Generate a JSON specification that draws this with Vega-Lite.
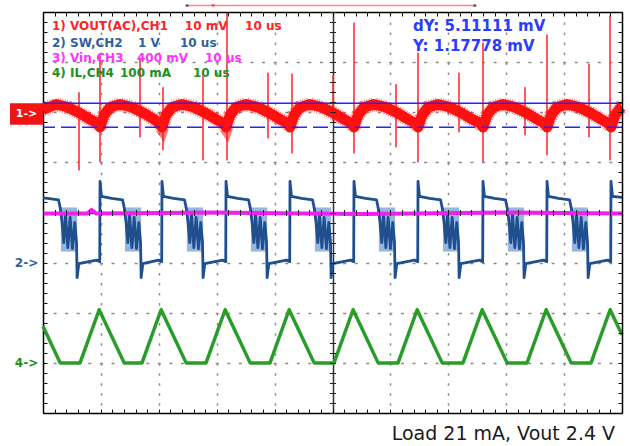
{
  "$schema": "https://vega.github.io/schema/vega-lite/v6.json",
  "width": 579,
  "height": 401,
  "autosize": {"type": "none"},
  "padding": {"left": 43, "top": 12, "right": 8, "bottom": 33},
  "background": "white",
  "config": {"view": {"stroke": null}},
  "resolve": {"axis": {"x": "independent", "y": "independent"}},
  "datasets": {
    "il": [
      {"t": 0, "v": -2.27}, {"t": 2.96, "v": -3.0}, {"t": 6.40, "v": -3.0}, {"t": 9.70, "v": -1.94},
      {"t": 14.02, "v": -3.0}, {"t": 17.10, "v": -3.0}, {"t": 20.40, "v": -1.94},
      {"t": 24.72, "v": -3.0}, {"t": 28.16, "v": -3.0}, {"t": 31.46, "v": -1.94},
      {"t": 35.78, "v": -3.0}, {"t": 39.21, "v": -3.0}, {"t": 42.51, "v": -1.94},
      {"t": 46.83, "v": -3.0}, {"t": 50.26, "v": -3.0}, {"t": 53.56, "v": -1.94},
      {"t": 57.88, "v": -3.0}, {"t": 61.32, "v": -3.0}, {"t": 64.62, "v": -1.94},
      {"t": 68.94, "v": -3.0}, {"t": 72.54, "v": -3.0}, {"t": 75.84, "v": -1.94},
      {"t": 80.16, "v": -3.0}, {"t": 83.60, "v": -3.0}, {"t": 86.90, "v": -1.94},
      {"t": 91.22, "v": -3.0}, {"t": 94.65, "v": -3.0}, {"t": 97.95, "v": -1.94},
      {"t": 100, "v": -2.44}
    ],
    "sw": [
      {"t": 0, "v": 0.29}, {"t": 0.79, "v": 0.28}, {"t": 2.69, "v": 0.25}, {"t": 2.99, "v": 0.08}, {"t": 3.29, "v": -0.2}, {"t": 3.59, "v": -0.6}, {"t": 3.89, "v": -0.05}, {"t": 4.29, "v": -0.7}, {"t": 4.69, "v": -0.1}, {"t": 5.09, "v": -0.72}, {"t": 5.49, "v": -0.2}, {"t": 5.79, "v": -0.6}, {"t": 5.89, "v": -1.3}, {"t": 6.19, "v": -1.02}, {"t": 9.25, "v": -0.95},
      {"t": 9.80, "v": -0.98}, {"t": 9.85, "v": 0.62}, {"t": 10.10, "v": 0.32}, {"t": 11.85, "v": 0.28}, {"t": 13.75, "v": 0.25}, {"t": 14.05, "v": 0.08}, {"t": 14.35, "v": -0.2}, {"t": 14.65, "v": -0.6}, {"t": 14.95, "v": -0.05}, {"t": 15.35, "v": -0.7}, {"t": 15.75, "v": -0.1}, {"t": 16.15, "v": -0.72}, {"t": 16.55, "v": -0.2}, {"t": 16.85, "v": -0.6}, {"t": 16.95, "v": -1.3}, {"t": 17.25, "v": -1.02}, {"t": 19.95, "v": -0.95},
      {"t": 20.50, "v": -0.98}, {"t": 20.55, "v": 0.62}, {"t": 20.80, "v": 0.32}, {"t": 22.55, "v": 0.28}, {"t": 24.45, "v": 0.25}, {"t": 24.75, "v": 0.08}, {"t": 25.05, "v": -0.2}, {"t": 25.35, "v": -0.6}, {"t": 25.65, "v": -0.05}, {"t": 26.05, "v": -0.7}, {"t": 26.45, "v": -0.1}, {"t": 26.85, "v": -0.72}, {"t": 27.25, "v": -0.2}, {"t": 27.55, "v": -0.6}, {"t": 27.65, "v": -1.3}, {"t": 27.95, "v": -1.02}, {"t": 31.01, "v": -0.95},
      {"t": 31.56, "v": -0.98}, {"t": 31.61, "v": 0.62}, {"t": 31.86, "v": 0.32}, {"t": 33.61, "v": 0.28}, {"t": 35.51, "v": 0.25}, {"t": 35.81, "v": 0.08}, {"t": 36.11, "v": -0.2}, {"t": 36.41, "v": -0.6}, {"t": 36.71, "v": -0.05}, {"t": 37.11, "v": -0.7}, {"t": 37.51, "v": -0.1}, {"t": 37.91, "v": -0.72}, {"t": 38.31, "v": -0.2}, {"t": 38.61, "v": -0.6}, {"t": 38.71, "v": -1.3}, {"t": 39.01, "v": -1.02}, {"t": 42.06, "v": -0.95},
      {"t": 42.61, "v": -0.98}, {"t": 42.66, "v": 0.62}, {"t": 42.91, "v": 0.32}, {"t": 44.66, "v": 0.28}, {"t": 46.56, "v": 0.25}, {"t": 46.86, "v": 0.08}, {"t": 47.16, "v": -0.2}, {"t": 47.46, "v": -0.6}, {"t": 47.76, "v": -0.05}, {"t": 48.16, "v": -0.7}, {"t": 48.56, "v": -0.1}, {"t": 48.96, "v": -0.72}, {"t": 49.36, "v": -0.2}, {"t": 49.66, "v": -0.6}, {"t": 49.76, "v": -1.3}, {"t": 50.06, "v": -1.02}, {"t": 53.11, "v": -0.95},
      {"t": 53.66, "v": -0.98}, {"t": 53.71, "v": 0.62}, {"t": 53.96, "v": 0.32}, {"t": 55.71, "v": 0.28}, {"t": 57.61, "v": 0.25}, {"t": 57.91, "v": 0.08}, {"t": 58.21, "v": -0.2}, {"t": 58.51, "v": -0.6}, {"t": 58.81, "v": -0.05}, {"t": 59.21, "v": -0.7}, {"t": 59.61, "v": -0.1}, {"t": 60.01, "v": -0.72}, {"t": 60.41, "v": -0.2}, {"t": 60.71, "v": -0.6}, {"t": 60.81, "v": -1.3}, {"t": 61.11, "v": -1.02}, {"t": 64.17, "v": -0.95},
      {"t": 64.72, "v": -0.98}, {"t": 64.77, "v": 0.62}, {"t": 65.02, "v": 0.32}, {"t": 66.77, "v": 0.28}, {"t": 68.67, "v": 0.25}, {"t": 68.97, "v": 0.08}, {"t": 69.27, "v": -0.2}, {"t": 69.57, "v": -0.6}, {"t": 69.87, "v": -0.05}, {"t": 70.27, "v": -0.7}, {"t": 70.67, "v": -0.1}, {"t": 71.07, "v": -0.72}, {"t": 71.47, "v": -0.2}, {"t": 71.77, "v": -0.6}, {"t": 71.87, "v": -1.3}, {"t": 72.17, "v": -1.02}, {"t": 75.39, "v": -0.95},
      {"t": 75.94, "v": -0.98}, {"t": 75.99, "v": 0.62}, {"t": 76.24, "v": 0.32}, {"t": 77.99, "v": 0.28}, {"t": 79.89, "v": 0.25}, {"t": 80.19, "v": 0.08}, {"t": 80.49, "v": -0.2}, {"t": 80.79, "v": -0.6}, {"t": 81.09, "v": -0.05}, {"t": 81.49, "v": -0.7}, {"t": 81.89, "v": -0.1}, {"t": 82.29, "v": -0.72}, {"t": 82.69, "v": -0.2}, {"t": 82.99, "v": -0.6}, {"t": 83.09, "v": -1.3}, {"t": 83.39, "v": -1.02}, {"t": 86.45, "v": -0.95},
      {"t": 87.00, "v": -0.98}, {"t": 87.05, "v": 0.62}, {"t": 87.30, "v": 0.32}, {"t": 89.05, "v": 0.28}, {"t": 90.95, "v": 0.25}, {"t": 91.25, "v": 0.08}, {"t": 91.55, "v": -0.2}, {"t": 91.85, "v": -0.6}, {"t": 92.15, "v": -0.05}, {"t": 92.55, "v": -0.7}, {"t": 92.95, "v": -0.1}, {"t": 93.35, "v": -0.72}, {"t": 93.75, "v": -0.2}, {"t": 94.05, "v": -0.6}, {"t": 94.15, "v": -1.3}, {"t": 94.45, "v": -1.02}, {"t": 97.50, "v": -0.95},
      {"t": 98.05, "v": -0.98}, {"t": 98.10, "v": 0.62}, {"t": 98.35, "v": 0.32}, {"t": 100, "v": 0.30}
    ],
    "ring": [
      {"t0": 3.09, "t1": 5.89, "hi": 0.1, "lo": -0.78},
      {"t0": 14.15, "t1": 16.95, "hi": 0.1, "lo": -0.78},
      {"t0": 24.85, "t1": 27.65, "hi": 0.1, "lo": -0.78},
      {"t0": 35.91, "t1": 38.71, "hi": 0.1, "lo": -0.78},
      {"t0": 46.96, "t1": 49.76, "hi": 0.1, "lo": -0.78},
      {"t0": 58.01, "t1": 60.81, "hi": 0.1, "lo": -0.78},
      {"t0": 69.07, "t1": 71.87, "hi": 0.1, "lo": -0.78},
      {"t0": 80.29, "t1": 83.09, "hi": 0.1, "lo": -0.78},
      {"t0": 91.35, "t1": 94.15, "hi": 0.1, "lo": -0.78}
    ],
    "vout": [
      {"t": 0, "v": 2.05}, {"t": 2.24, "v": 2.16}, {"t": 4.32, "v": 2.10}, {"t": 6.39, "v": 1.98}, {"t": 8.12, "v": 1.86}, {"t": 9.35, "v": 1.78},
      {"t": 9.85, "v": 1.70}, {"t": 10.54, "v": 1.94}, {"t": 11.58, "v": 2.10}, {"t": 13.30, "v": 2.16}, {"t": 15.38, "v": 2.10}, {"t": 17.45, "v": 1.98}, {"t": 19.18, "v": 1.86}, {"t": 20.05, "v": 1.78},
      {"t": 20.55, "v": 1.70}, {"t": 21.24, "v": 1.94}, {"t": 22.28, "v": 2.10}, {"t": 24.00, "v": 2.16}, {"t": 26.08, "v": 2.10}, {"t": 28.15, "v": 1.98}, {"t": 29.88, "v": 1.86}, {"t": 31.11, "v": 1.78},
      {"t": 31.61, "v": 1.70}, {"t": 32.30, "v": 1.94}, {"t": 33.34, "v": 2.10}, {"t": 35.06, "v": 2.16}, {"t": 37.14, "v": 2.10}, {"t": 39.21, "v": 1.98}, {"t": 40.94, "v": 1.86}, {"t": 42.16, "v": 1.78},
      {"t": 42.66, "v": 1.70}, {"t": 43.35, "v": 1.94}, {"t": 44.39, "v": 2.10}, {"t": 46.11, "v": 2.16}, {"t": 48.19, "v": 2.10}, {"t": 50.26, "v": 1.98}, {"t": 51.99, "v": 1.86}, {"t": 53.21, "v": 1.78},
      {"t": 53.71, "v": 1.70}, {"t": 54.40, "v": 1.94}, {"t": 55.44, "v": 2.10}, {"t": 57.16, "v": 2.16}, {"t": 59.24, "v": 2.10}, {"t": 61.31, "v": 1.98}, {"t": 63.04, "v": 1.86}, {"t": 64.27, "v": 1.78},
      {"t": 64.77, "v": 1.70}, {"t": 65.46, "v": 1.94}, {"t": 66.50, "v": 2.10}, {"t": 68.22, "v": 2.16}, {"t": 70.30, "v": 2.10}, {"t": 72.37, "v": 1.98}, {"t": 74.10, "v": 1.86}, {"t": 75.49, "v": 1.78},
      {"t": 75.99, "v": 1.70}, {"t": 76.68, "v": 1.94}, {"t": 77.72, "v": 2.10}, {"t": 79.44, "v": 2.16}, {"t": 81.52, "v": 2.10}, {"t": 83.59, "v": 1.98}, {"t": 85.32, "v": 1.86}, {"t": 86.55, "v": 1.78},
      {"t": 87.05, "v": 1.70}, {"t": 87.74, "v": 1.94}, {"t": 88.78, "v": 2.10}, {"t": 90.50, "v": 2.16}, {"t": 92.58, "v": 2.10}, {"t": 94.65, "v": 1.98}, {"t": 96.38, "v": 1.86}, {"t": 97.60, "v": 1.78},
      {"t": 98.10, "v": 1.70}, {"t": 98.79, "v": 1.94}, {"t": 99.83, "v": 2.10}, {"t": 100, "v": 2.11}
    ],
    "spikes": [
      {"t": 9.84, "hi": 3.13, "lo": 1.00}, {"t": 20.73, "hi": 2.50, "lo": 1.24}, {"t": 31.78, "hi": 3.99, "lo": 1.04},
      {"t": 43.01, "hi": 2.77, "lo": 1.18}, {"t": 53.71, "hi": 3.79, "lo": 1.18}, {"t": 64.77, "hi": 3.19, "lo": 1.00},
      {"t": 75.99, "hi": 3.39, "lo": 1.00}, {"t": 87.05, "hi": 3.55, "lo": 1.14}, {"t": 97.93, "hi": 3.93, "lo": 1.04},
      {"t": 6.22, "hi": 2.40, "lo": 0.84}, {"t": 16.75, "hi": 3.09, "lo": 1.50}, {"t": 27.63, "hi": 2.83, "lo": 1.04},
      {"t": 38.86, "hi": 2.79, "lo": 1.48}, {"t": 50.09, "hi": 2.74, "lo": 1.84}, {"t": 60.97, "hi": 2.56, "lo": 1.30},
      {"t": 71.85, "hi": 2.79, "lo": 1.60}, {"t": 83.25, "hi": 2.50, "lo": 1.54}, {"t": 94.30, "hi": 2.97, "lo": 1.50}
    ],
    "vin": [
      {"t": 0, "v": -0.02}, {"t": 7.6, "v": -0.02}, {"t": 8.4, "v": 0.05}, {"t": 9.2, "v": -0.02},
      {"t": 30, "v": 0.0}, {"t": 55, "v": -0.03}, {"t": 80, "v": 0.0}, {"t": 100, "v": -0.02}
    ],
    "legend": [
      {"t": 1.55, "v": 3.73, "s": "1) VOUT(AC),CH1", "ch": "1"},
      {"t": 24.5, "v": 3.73, "s": "10 mV", "ch": "1"},
      {"t": 34.9, "v": 3.73, "s": "10 us", "ch": "1"},
      {"t": 1.55, "v": 3.39, "s": "2) SW,CH2", "ch": "2"},
      {"t": 16.4, "v": 3.39, "s": "1  V", "ch": "2"},
      {"t": 23.66, "v": 3.39, "s": "10 us", "ch": "2"},
      {"t": 1.55, "v": 3.09, "s": "3) Vin,CH3", "ch": "3"},
      {"t": 16.23, "v": 3.09, "s": "400 mV", "ch": "3"},
      {"t": 27.98, "v": 3.09, "s": "10 us", "ch": "3"},
      {"t": 1.55, "v": 2.79, "s": "4) IL,CH4", "ch": "4"},
      {"t": 13.3, "v": 2.79, "s": "100 mA", "ch": "4"},
      {"t": 25.9, "v": 2.79, "s": "10 us", "ch": "4"}
    ],
    "markers": [
      {"t": -2.85, "v": -1.0, "s": "2->", "ch": "2"},
      {"t": -2.85, "v": -3.0, "s": "4->", "ch": "4"}
    ],
    "readout": [
      {"t": 63.9, "v": 3.73, "s": "dY: 5.11111 mV"},
      {"t": 63.9, "v": 3.33, "s": "Y: 1.17778 mV"}
    ],
    "box": [{"t0": -5.7, "t1": 0, "hi": 2.18, "lo": 1.75}],
    "boxlabel": [{"t": -2.85, "v": 1.965, "s": "1->"}],
    "cursors": [{"v": 2.18, "kind": "solid"}, {"v": 1.70, "kind": "dashed"}],
    "trigger": [{"t0": 24.87, "t1": 74.6, "v": 4.13}],
    "trigmark": [{"t": 29.36, "v": 4.12}],
    "trigends": [{"t": 24.87, "v": 4.13}, {"t": 74.6, "v": 4.13}],
    "caption": [{"t": 98.8, "v": -4.41, "s": "Load 21 mA, Vout 2.4 V"}]
  },
  "layer": [
    {
      "data": {"name": "ring"},
      "mark": {"type": "rect", "color": "#8fb2dc", "opacity": 0.95},
      "encoding": {
        "x": {"field": "t0", "type": "quantitative", "scale": {"domain": [0, 100], "nice": false, "zero": false}, "axis": null},
        "x2": {"field": "t1"},
        "y": {"field": "hi", "type": "quantitative", "scale": {"domain": [-4, 4], "nice": false, "zero": false}, "axis": null},
        "y2": {"field": "lo"}
      }
    },
    {
      "data": {"name": "il"},
      "mark": {"type": "line", "color": "#2a9c2a", "strokeWidth": 3.5, "strokeJoin": "round"},
      "encoding": {
        "x": {"field": "t", "type": "quantitative", "scale": {"domain": [0, 100], "nice": false, "zero": false},
          "axis": {"orient": "bottom", "values": [0,2,4,6,8,10,12,14,16,18,20,22,24,26,28,30,32,34,36,38,40,42,44,46,48,50,52,54,56,58,60,62,64,66,68,70,72,74,76,78,80,82,84,86,88,90,92,94,96,98,100],
            "labels": false, "title": null, "domain": true, "domainColor": "#000", "domainWidth": 1.5,
            "ticks": true, "tickColor": "#111", "tickSize": -4, "tickWidth": 1,
            "grid": true,
            "gridColor": {"condition": {"test": "datum.value === 50", "value": "#333"}, "value": "#8a8a8a"},
            "gridDash": {"condition": {"test": "datum.value === 50", "value": [1, 0]}, "value": [2.5, 7.52]},
            "gridWidth": 1.5,
            "gridOpacity": {"condition": {"test": "datum.value % 10 === 0 && datum.value > 0 && datum.value < 100", "value": 1}, "value": 0}}},
        "y": {"field": "v", "type": "quantitative", "scale": {"domain": [-4, 4], "nice": false, "zero": false},
          "axis": {"orient": "left", "values": [-4,-3.8,-3.6,-3.4,-3.2,-3,-2.8,-2.6,-2.4,-2.2,-2,-1.8,-1.6,-1.4,-1.2,-1,-0.8,-0.6,-0.4,-0.2,0,0.2,0.4,0.6,0.8,1,1.2,1.4,1.6,1.8,2,2.2,2.4,2.6,2.8,3,3.2,3.4,3.6,3.8,4],
            "labels": false, "title": null, "domain": true, "domainColor": "#000", "domainWidth": 1.5,
            "ticks": true, "tickColor": "#111", "tickSize": -4, "tickWidth": 1,
            "grid": true,
            "gridColor": {"condition": {"test": "abs(datum.value) < 0.001", "value": "#333"}, "value": "#8a8a8a"},
            "gridDash": {"condition": {"test": "abs(datum.value) < 0.001", "value": [1, 0]}, "value": [3, 8.58]},
            "gridDashOffset": 1.5,
            "gridWidth": 1.5,
            "gridOpacity": {"condition": {"test": "abs(datum.value - round(datum.value)) < 0.001 && abs(datum.value) < 3.9", "value": 1}, "value": 0}}}
      }
    },
    {
      "data": {"name": "sw"},
      "mark": {"type": "line", "color": "#1f4f8f", "strokeWidth": 2.8, "strokeJoin": "round"},
      "encoding": {
        "x": {"field": "t", "type": "quantitative", "scale": {"domain": [0, 100], "nice": false, "zero": false},
          "axis": {"orient": "bottom", "offset": -203.5, "values": [0,2,4,6,8,10,12,14,16,18,20,22,24,26,28,30,32,34,36,38,40,42,44,46,48,50,52,54,56,58,60,62,64,66,68,70,72,74,76,78,80,82,84,86,88,90,92,94,96,98,100],
            "labels": false, "title": null, "domain": false, "ticks": true, "tickColor": "#222", "tickSize": 6, "tickWidth": 1, "grid": false, "zindex": 1}},
        "y": {"field": "v", "type": "quantitative", "scale": {"domain": [-4, 4], "nice": false, "zero": false},
          "axis": {"orient": "left", "offset": -292.5, "values": [-4,-3.8,-3.6,-3.4,-3.2,-3,-2.8,-2.6,-2.4,-2.2,-2,-1.8,-1.6,-1.4,-1.2,-1,-0.8,-0.6,-0.4,-0.2,0,0.2,0.4,0.6,0.8,1,1.2,1.4,1.6,1.8,2,2.2,2.4,2.6,2.8,3,3.2,3.4,3.6,3.8,4],
            "labels": false, "title": null, "domain": false, "ticks": true, "tickColor": "#222", "tickSize": 6, "tickWidth": 1, "grid": false, "zindex": 1}}
      }
    },
    {
      "data": {"name": "vin"},
      "mark": {"type": "line", "color": "#f020f0", "strokeWidth": 4},
      "encoding": {
        "x": {"field": "t", "type": "quantitative", "scale": {"domain": [0, 100], "nice": false, "zero": false},
          "axis": {"orient": "top", "values": [0,2,4,6,8,10,12,14,16,18,20,22,24,26,28,30,32,34,36,38,40,42,44,46,48,50,52,54,56,58,60,62,64,66,68,70,72,74,76,78,80,82,84,86,88,90,92,94,96,98,100],
            "labels": false, "title": null, "domain": true, "domainColor": "#000", "domainWidth": 1.5, "ticks": true, "tickColor": "#111", "tickSize": -4, "tickWidth": 1, "grid": false, "zindex": 1}},
        "y": {"field": "v", "type": "quantitative", "scale": {"domain": [-4, 4], "nice": false, "zero": false},
          "axis": {"orient": "right", "values": [-4,-3.8,-3.6,-3.4,-3.2,-3,-2.8,-2.6,-2.4,-2.2,-2,-1.8,-1.6,-1.4,-1.2,-1,-0.8,-0.6,-0.4,-0.2,0,0.2,0.4,0.6,0.8,1,1.2,1.4,1.6,1.8,2,2.2,2.4,2.6,2.8,3,3.2,3.4,3.6,3.8,4],
            "labels": false, "title": null, "domain": true, "domainColor": "#000", "domainWidth": 1.5, "ticks": true, "tickColor": "#111", "tickSize": -4, "tickWidth": 1, "grid": false, "zindex": 1}}
      }
    },
    {
      "data": {"name": "spikes"},
      "mark": {"type": "rule", "color": "#ff3b3b", "strokeWidth": 2, "opacity": 0.85},
      "encoding": {
        "x": {"field": "t", "type": "quantitative", "scale": {"domain": [0, 100], "nice": false, "zero": false}, "axis": null},
        "y": {"field": "hi", "type": "quantitative", "scale": {"domain": [-4, 4], "nice": false, "zero": false}, "axis": null},
        "y2": {"field": "lo"}
      }
    },
    {
      "data": {"name": "vout"},
      "mark": {"type": "line", "color": "#ff1414", "strokeWidth": 14, "strokeDash": [1, 1.4], "strokeCap": "butt", "opacity": 0.55},
      "encoding": {
        "x": {"field": "t", "type": "quantitative", "scale": {"domain": [0, 100], "nice": false, "zero": false}, "axis": null},
        "y": {"field": "v", "type": "quantitative", "scale": {"domain": [-4, 4], "nice": false, "zero": false}, "axis": null}
      }
    },
    {
      "data": {"name": "vout"},
      "mark": {"type": "line", "color": "#ff1010", "strokeWidth": 10.5, "strokeJoin": "round"},
      "encoding": {
        "x": {"field": "t", "type": "quantitative", "scale": {"domain": [0, 100], "nice": false, "zero": false}, "axis": null},
        "y": {"field": "v", "type": "quantitative", "scale": {"domain": [-4, 4], "nice": false, "zero": false}, "axis": null}
      }
    },
    {
      "data": {"name": "cursors"},
      "mark": {"type": "rule", "color": "#2424ff", "strokeWidth": 1.5},
      "encoding": {
        "y": {"field": "v", "type": "quantitative", "scale": {"domain": [-4, 4], "nice": false, "zero": false}, "axis": null},
        "strokeDash": {"field": "kind", "type": "nominal", "scale": {"domain": ["solid", "dashed"], "range": [[1, 0], [15, 6]]}, "legend": null}
      }
    },
    {
      "data": {"name": "legend"},
      "mark": {"type": "text", "font": "DejaVu Sans", "fontWeight": "bold", "fontSize": 12, "align": "left", "baseline": "middle"},
      "encoding": {
        "x": {"field": "t", "type": "quantitative", "scale": {"domain": [0, 100], "nice": false, "zero": false}, "axis": null},
        "y": {"field": "v", "type": "quantitative", "scale": {"domain": [-4, 4], "nice": false, "zero": false}, "axis": null},
        "text": {"field": "s"},
        "color": {"field": "ch", "type": "nominal", "scale": {"domain": ["1", "2", "3", "4"], "range": ["#ff2424", "#2f5f9f", "#ff33ff", "#1f8f1f"]}, "legend": null}
      }
    },
    {
      "data": {"name": "markers"},
      "mark": {"type": "text", "font": "DejaVu Sans", "fontWeight": "bold", "fontSize": 12, "align": "center", "baseline": "middle"},
      "encoding": {
        "x": {"field": "t", "type": "quantitative", "scale": {"domain": [0, 100], "nice": false, "zero": false}, "axis": null},
        "y": {"field": "v", "type": "quantitative", "scale": {"domain": [-4, 4], "nice": false, "zero": false}, "axis": null},
        "text": {"field": "s"},
        "color": {"field": "ch", "type": "nominal", "scale": {"domain": ["1", "2", "3", "4"], "range": ["#ff2424", "#2f5f9f", "#ff33ff", "#1f8f1f"]}, "legend": null}
      }
    },
    {
      "data": {"name": "box"},
      "mark": {"type": "rect", "color": "#f01414"},
      "encoding": {
        "x": {"field": "t0", "type": "quantitative", "scale": {"domain": [0, 100], "nice": false, "zero": false}, "axis": null},
        "x2": {"field": "t1"},
        "y": {"field": "hi", "type": "quantitative", "scale": {"domain": [-4, 4], "nice": false, "zero": false}, "axis": null},
        "y2": {"field": "lo"}
      }
    },
    {
      "data": {"name": "boxlabel"},
      "mark": {"type": "text", "color": "white", "font": "DejaVu Sans", "fontWeight": "bold", "fontSize": 11, "align": "center", "baseline": "middle"},
      "encoding": {
        "x": {"field": "t", "type": "quantitative", "scale": {"domain": [0, 100], "nice": false, "zero": false}, "axis": null},
        "y": {"field": "v", "type": "quantitative", "scale": {"domain": [-4, 4], "nice": false, "zero": false}, "axis": null},
        "text": {"field": "s"}
      }
    },
    {
      "data": {"name": "readout"},
      "mark": {"type": "text", "font": "DejaVu Sans", "fontWeight": "bold", "fontSize": 15, "align": "left", "baseline": "middle", "color": "#2a3cff"},
      "encoding": {
        "x": {"field": "t", "type": "quantitative", "scale": {"domain": [0, 100], "nice": false, "zero": false}, "axis": null},
        "y": {"field": "v", "type": "quantitative", "scale": {"domain": [-4, 4], "nice": false, "zero": false}, "axis": null},
        "text": {"field": "s"}
      }
    },
    {
      "data": {"name": "trigger"},
      "mark": {"type": "rule", "color": "#ff8080", "strokeWidth": 1.5},
      "encoding": {
        "x": {"field": "t0", "type": "quantitative", "scale": {"domain": [0, 100], "nice": false, "zero": false}, "axis": null},
        "x2": {"field": "t1"},
        "y": {"field": "v", "type": "quantitative", "scale": {"domain": [-4, 4], "nice": false, "zero": false}, "axis": null}
      }
    },
    {
      "data": {"name": "trigmark"},
      "mark": {"type": "point", "shape": "triangle-down", "filled": true, "color": "#ff3030", "size": 18},
      "encoding": {
        "x": {"field": "t", "type": "quantitative", "scale": {"domain": [0, 100], "nice": false, "zero": false}, "axis": null},
        "y": {"field": "v", "type": "quantitative", "scale": {"domain": [-4, 4], "nice": false, "zero": false}, "axis": null}
      }
    },
    {
      "data": {"name": "trigends"},
      "mark": {"type": "point", "shape": "circle", "filled": true, "color": "#442222", "size": 10},
      "encoding": {
        "x": {"field": "t", "type": "quantitative", "scale": {"domain": [0, 100], "nice": false, "zero": false}, "axis": null},
        "y": {"field": "v", "type": "quantitative", "scale": {"domain": [-4, 4], "nice": false, "zero": false}, "axis": null}
      }
    },
    {
      "data": {"name": "caption"},
      "mark": {"type": "text", "font": "DejaVu Sans", "fontSize": 19, "color": "#1a1a1a", "align": "right", "baseline": "middle"},
      "encoding": {
        "x": {"field": "t", "type": "quantitative", "scale": {"domain": [0, 100], "nice": false, "zero": false}, "axis": null},
        "y": {"field": "v", "type": "quantitative", "scale": {"domain": [-4, 4], "nice": false, "zero": false}, "axis": null},
        "text": {"field": "s"}
      }
    }
  ]
}
